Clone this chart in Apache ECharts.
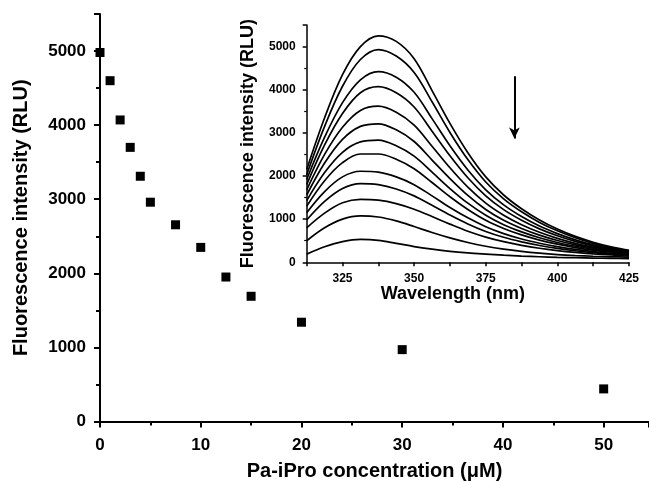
<!DOCTYPE html>
<html>
<head>
<meta charset="utf-8">
<script src="https://cdn.jsdelivr.net/npm/echarts@6/dist/echarts.min.js"></script>
<style>
  html, body { margin: 0; padding: 0; background: #fff; }
  #chart { width: 649px; height: 481px; }
</style>
</head>
<body>
<div id="chart"></div>
<script>
// Quenching titration: intensity at the emission maximum vs. quencher concentration
const concentration = [0, 1, 2, 3, 4, 5, 7.5, 10, 12.5, 15, 20, 30, 50];
const intensity = [4980, 4600, 4070, 3700, 3310, 2960, 2655, 2350, 1950, 1690, 1340, 970, 440];

// Emission spectra (inset), one array per titration step
const wavelength = [312.5, 318.75, 325, 331.25, 337.5, 343.75, 350, 356.25, 362.5, 368.75,
                    375, 381.25, 387.5, 393.75, 400, 406.25, 412.5, 418.75, 425];
const spectrum1  = [2150, 3350, 4350, 5000, 5250, 5120, 4720, 3980, 3220, 2540, 1980, 1560, 1240, 980, 770, 600, 465, 360, 280];
const spectrum2  = [2030, 3150, 4080, 4700, 4930, 4780, 4400, 3720, 3010, 2380, 1860, 1470, 1170, 925, 730, 570, 440, 340, 265];
const spectrum3  = [1920, 2900, 3700, 4230, 4420, 4290, 3940, 3330, 2700, 2140, 1680, 1330, 1060, 840, 665, 520, 405, 315, 250];
const spectrum4  = [1800, 2720, 3450, 3930, 4070, 3930, 3600, 3040, 2470, 1960, 1540, 1220, 975, 775, 615, 485, 380, 300, 240];
const spectrum5  = [1680, 2500, 3130, 3520, 3620, 3480, 3180, 2690, 2190, 1740, 1370, 1090, 870, 695, 555, 440, 350, 280, 228];
const spectrum6  = [1560, 2300, 2850, 3150, 3210, 3070, 2800, 2370, 1940, 1550, 1225, 975, 785, 630, 505, 405, 325, 263, 218];
const spectrum7  = [1430, 2080, 2550, 2790, 2830, 2700, 2460, 2090, 1710, 1370, 1090, 870, 705, 570, 460, 372, 302, 248, 208];
const spectrum8  = [1300, 1890, 2310, 2510, 2510, 2390, 2170, 1850, 1520, 1225, 975, 785, 635, 515, 420, 342, 282, 233, 197];
const spectrum9  = [1150, 1640, 1980, 2110, 2090, 1980, 1800, 1540, 1270, 1030, 825, 665, 540, 442, 362, 298, 248, 208, 180];
const spectrum10 = [980, 1410, 1710, 1825, 1800, 1700, 1540, 1320, 1095, 890, 715, 580, 475, 390, 322, 268, 225, 192, 167];
const spectrum11 = [800, 1140, 1380, 1460, 1440, 1360, 1230, 1060, 885, 720, 585, 478, 393, 325, 272, 230, 197, 170, 150];
const spectrum12 = [500, 800, 1000, 1075, 1050, 960, 830, 690, 565, 458, 372, 305, 253, 212, 180, 157, 140, 128, 120];
const spectrum13 = [190, 360, 480, 530, 510, 440, 365, 305, 255, 218, 190, 165, 145, 129, 116, 105, 97, 90, 85];
const spectra = [spectrum1, spectrum2, spectrum3, spectrum4, spectrum5, spectrum6, spectrum7,
                 spectrum8, spectrum9, spectrum10, spectrum11, spectrum12, spectrum13];

// Downward arrow showing the direction of quenching (wavelength, start, tip)
const arrowWavelength = 385;
const arrowStart = 4310;
const arrowTip = 2870;

const FONT = '"Liberation Sans", Arial, Helvetica, sans-serif';
const black = '#000';
const plain = v => String(v);

function axisBase(opts) {
  return Object.assign({
    type: 'value',
    splitLine: { show: false },
    axisLine: { show: true, onZero: false, lineStyle: { color: black, width: 2 } },
    axisTick: { show: true, length: 6, lineStyle: { color: black, width: 2 } },
    minorTick: { show: true, splitNumber: 2, length: 4, lineStyle: { color: black, width: 2 } },
    nameLocation: 'middle',
    nameTextStyle: { color: black, fontFamily: FONT, fontWeight: 'bold', fontSize: 20 }
  }, opts);
}

const insetLine = { show: true, onZero: false, lineStyle: { color: black, width: 1.5 } };
const insetTick = { show: true, length: 4, lineStyle: { color: black, width: 1.5 } };
const insetLabel = { color: black, fontFamily: FONT, fontWeight: 'bold', fontSize: 12, showMaxLabel: false };
const insetName = { color: black, fontFamily: FONT, fontWeight: 'bold', fontSize: 18 };

const spectrumSeries = spectra.map((values, i) => {
  const s = {
    type: 'line',
    xAxisIndex: 1,
    yAxisIndex: 1,
    data: wavelength.map((w, k) => [w, values[k]]),
    showSymbol: false,
    smooth: 0.35,
    lineStyle: { color: black, width: 1.7 },
    silent: true
  };
  if (i === 0) {
    s.markLine = {
      silent: true,
      symbol: ['none', 'arrow'],
      symbolSize: [8, 11],
      lineStyle: { color: black, width: 2, type: 'solid' },
      label: { show: false },
      data: [[{ coord: [arrowWavelength, arrowStart] }, { coord: [arrowWavelength, arrowTip] }]]
    };
  }
  return s;
});

const option = {
  animation: false,
  backgroundColor: '#fff',
  grid: [
    { left: 100, top: 14, right: 0, bottom: 59.5, containLabel: false, outerBoundsMode: 'none' },
    { left: 306.7, top: 25, right: 20, bottom: 218.7, containLabel: false, outerBoundsMode: 'none' }
  ],
  xAxis: [
    axisBase({
      gridIndex: 0, min: 0, max: 54.5, interval: 10,
      axisLabel: { color: black, fontFamily: FONT, fontWeight: 'bold', fontSize: 17, margin: 15, showMaxLabel: false, formatter: plain },
      name: 'Pa-iPro concentration (μM)', nameGap: 39.5
    }),
    {
      type: 'value', gridIndex: 1, min: 312.5, max: 425, interval: 12.5,
      splitLine: { show: false },
      axisLine: insetLine,
      axisTick: insetTick,
      axisLabel: Object.assign({}, insetLabel, {
        margin: 10, showMaxLabel: true,
        formatter: v => (v % 25 === 0 ? String(v) : '')
      }),
      name: 'Wavelength (nm)', nameLocation: 'middle', nameGap: 22,
      nameTextStyle: Object.assign({}, insetName, { padding: [0, 30, 0, 0] })
    }
  ],
  yAxis: [
    axisBase({
      gridIndex: 0, min: 0, max: 5500, interval: 1000,
      axisLabel: { color: black, fontFamily: FONT, fontWeight: 'bold', fontSize: 17, margin: 14, showMaxLabel: false, formatter: plain },
      name: 'Fluorescence intensity (RLU)', nameGap: 69
    }),
    {
      type: 'value', gridIndex: 1, min: 0, max: 5500, interval: 1000,
      splitLine: { show: false },
      axisLine: insetLine,
      axisTick: insetTick,
      minorTick: { show: true, splitNumber: 2, length: 2.5, lineStyle: { color: black, width: 1.2 } },
      axisLabel: Object.assign({}, insetLabel, { margin: 11, formatter: plain }),
      name: 'Fluorescence intensity (RLU)', nameLocation: 'middle', nameGap: 50,
      nameTextStyle: insetName
    }
  ],
  series: [
    {
      type: 'scatter',
      xAxisIndex: 0,
      yAxisIndex: 0,
      symbol: 'rect',
      symbolSize: 9,
      itemStyle: { color: black, opacity: 1 },
      data: concentration.map((c, i) => [c, intensity[i]])
    }
  ].concat(spectrumSeries)
};

const chart = echarts.init(document.getElementById('chart'), null, { renderer: 'canvas' });
chart.setOption(option);
</script>
</body>
</html>
